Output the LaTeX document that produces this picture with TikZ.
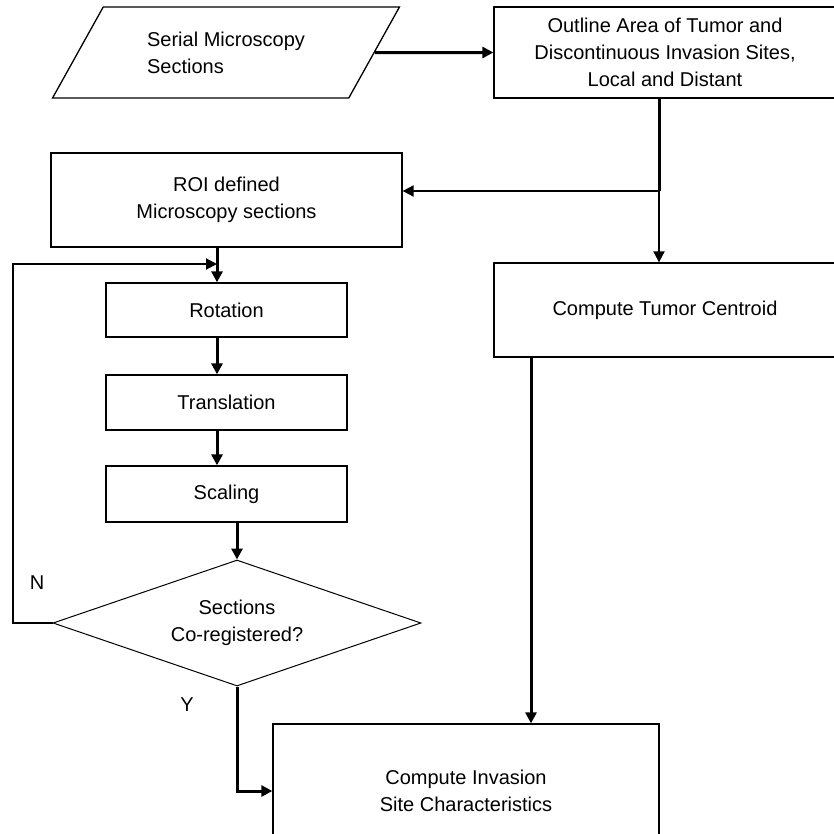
\documentclass[tikz,border=0pt]{standalone}
\usepackage{fontspec}
\setmainfont{Liberation Sans}
\usetikzlibrary{shapes.geometric,arrows.meta}

\begin{document}
\begin{tikzpicture}[x=1pt,y=-1pt,
  txt/.style={font=\fontsize{20}{27}\selectfont},
  box/.style={txt,draw,rectangle,line width=1.3pt,inner sep=0pt,align=center},
  flow/.style={line width=3pt,-{Triangle[length=11pt,width=11pt]}},
  back/.style={line width=2pt,-{Triangle[length=11pt,width=11pt]}}]
\clip (0,0) rectangle (834,833);
\fill[white] (0,0) rectangle (834,833);

\node[box,trapezium,trapezium left angle=52,trapezium right angle=128,trapezium stretches=true,minimum width=348pt,minimum height=91pt,align=left] (serial) at (226,52.5) {Serial Microscopy\\Sections};
\node[box,minimum width=342pt,minimum height=91pt] (outline) at (665,52.5) {Outline Area of Tumor and\\Discontinuous Invasion Sites,\\Local and Distant};
\node[box,minimum width=351pt,minimum height=94pt] (roi) at (226.5,200) {ROI defined\\Microscopy sections};
\node[box,minimum width=241pt,minimum height=54pt] (rot) at (226.5,310) {Rotation};
\node[box,minimum width=241pt,minimum height=55pt] (trans) at (226.5,402.5) {Translation};
\node[box,minimum width=241pt,minimum height=56pt] (scal) at (226.5,494) {Scaling};
\node[box,diamond,aspect=2.92,line width=1pt,minimum width=368pt,minimum height=126pt] (coreg) at (237,623) {Sections\\Co-registered?};
\node[box,minimum width=342pt,minimum height=94pt] (centroid) at (665,310) {Compute Tumor Centroid};
\node[box,minimum width=386pt,minimum height=134pt] (inv) at (466,791) {Compute Invasion\\Site Characteristics};

\node[txt] (no) at (37,583) {N};
\node[txt] (yes) at (187,705) {Y};

\coordinate (split) at (659,191);
\coordinate (bend) at (13,264);
\coordinate (entry) at (217,264);

\draw[flow] (serial.east) -- (outline.west);
\draw[line width=3pt] (outline.south -| split) -- (split);
\draw[back] (split) -- (split -| roi.east);
\draw[back] (split) -- (split |- centroid.north);
\draw[flow] ([xshift=-9.5pt]roi.south) -- ([xshift=-9.5pt]rot.north);
\draw[flow] ([xshift=-9.5pt]rot.south) -- ([xshift=-9.5pt]trans.north);
\draw[flow] ([xshift=-9.5pt]trans.south) -- ([xshift=-9.5pt]scal.north);
\draw[flow] (scal.south -| coreg.north) -- (coreg.north);
\draw[back] (coreg.west) -| (bend) -- (entry);
\draw[flow] (coreg.south) |- (inv.west);
\draw[flow] ([xshift=-134pt]centroid.south) -- ([xshift=-134pt]centroid.south |- inv.north);
\end{tikzpicture}
\end{document}
